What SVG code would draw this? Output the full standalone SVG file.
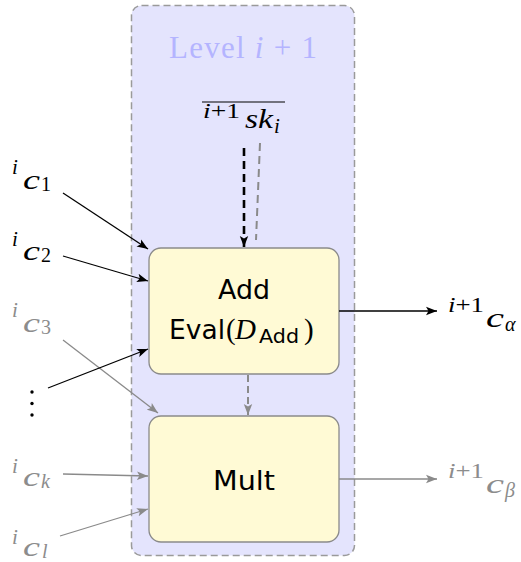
<svg xmlns="http://www.w3.org/2000/svg" width="521" height="562" viewBox="0 0 521 562">
  <style>
    .math { font-family: "Liberation Serif", "DejaVu Serif", serif; }
    .it { font-style: italic; }
    .sans { font-family: "DejaVu Sans", "Liberation Sans", sans-serif; }
    .dark { fill: #000000; }
    .grey { fill: #8c8c8c; }
    .box { fill: #fffad5; stroke: #8a8a8a; stroke-width: 1.3; }
    .wire { fill: none; stroke-width: 1.3; }
    .k { stroke: #000000; }
    .g { stroke: #8a8a8a; }
    .sup { font-size: 21px; }
    .base { font-size: 28px; }
    .sub { font-size: 20px; }
  </style>
  <defs>
    <marker id="headK" markerUnits="userSpaceOnUse" markerWidth="12" markerHeight="10" viewBox="0 0 12 10" refX="11" refY="5" orient="auto">
      <path d="M0,0.8 L11,5 L0,9.2 L2.5,5 Z" fill="#000000"/>
    </marker>
    <marker id="headG" markerUnits="userSpaceOnUse" markerWidth="12" markerHeight="10" viewBox="0 0 12 10" refX="11" refY="5" orient="auto">
      <path d="M0,0.8 L11,5 L0,9.2 L2.5,5 Z" fill="#8a8a8a"/>
    </marker>
  </defs>

  <!-- level container -->
  <g id="level">
    <rect x="131.5" y="5.5" width="223" height="550" rx="10" fill="#e4e4fd" stroke="#9a9a9a" stroke-width="1.5" stroke-dasharray="7 4"/>
    <text class="math" x="169" y="58" font-size="31" fill="#b4b4ff" textLength="148" lengthAdjust="spacing">Level <tspan class="it">i</tspan> + 1</text>
  </g>

  <!-- key label -->
  <g id="key">
    <line x1="202" y1="102" x2="285" y2="102" stroke="#000" stroke-width="1.2"/>
    <text class="math dark sup" x="203" y="118" textLength="37" lengthAdjust="spacingAndGlyphs"><tspan class="it">i</tspan>+1</text>
    <text class="math it dark base" x="245" y="128" textLength="28" lengthAdjust="spacingAndGlyphs">sk</text>
    <text class="math it dark sup" x="274" y="133">i</text>
  </g>

  <!-- operation nodes -->
  <g id="add">
    <rect class="box" x="149" y="248" width="190" height="126" rx="12"/>
    <text class="sans dark" x="244" y="299" font-size="27" text-anchor="middle" textLength="52" lengthAdjust="spacingAndGlyphs">Add</text>
    <text class="sans dark" x="169" y="339" font-size="27" textLength="56" lengthAdjust="spacingAndGlyphs">Eval</text>
    <text class="math dark" x="226" y="339" font-size="29">(</text>
    <text class="math it dark" x="235" y="339" font-size="29">D</text>
    <text class="sans dark" x="259" y="343" font-size="19" textLength="40" lengthAdjust="spacingAndGlyphs">Add</text>
    <text class="math dark" x="304" y="339" font-size="29">)</text>
  </g>
  <g id="mult">
    <rect class="box" x="149" y="416" width="190" height="126" rx="12"/>
    <text class="sans dark" x="244" y="490" font-size="27" text-anchor="middle" textLength="62" lengthAdjust="spacingAndGlyphs">Mult</text>
  </g>

  <!-- input and output labels -->
  <g id="c1">
    <text class="math it dark sup" x="12" y="174">i</text>
    <text class="math it dark base" x="23" y="189" textLength="17" lengthAdjust="spacingAndGlyphs">c</text>
    <text class="math dark sub" x="41" y="191">1</text>
  </g>
  <g id="c2">
    <text class="math it dark sup" x="12" y="246">i</text>
    <text class="math it dark base" x="23" y="260" textLength="17" lengthAdjust="spacingAndGlyphs">c</text>
    <text class="math dark sub" x="41" y="262">2</text>
  </g>
  <g id="c3">
    <text class="math it grey sup" x="12" y="317">i</text>
    <text class="math it grey base" x="23" y="332" textLength="17" lengthAdjust="spacingAndGlyphs">c</text>
    <text class="math grey sub" x="41" y="334">3</text>
  </g>
  <g id="vdots">
    <circle cx="32" cy="392" r="1.7" fill="#000"/>
    <circle cx="32" cy="403.5" r="1.7" fill="#000"/>
    <circle cx="32" cy="415" r="1.7" fill="#000"/>
  </g>
  <g id="ck">
    <text class="math it grey sup" x="12" y="473">i</text>
    <text class="math it grey base" x="23" y="486" textLength="17" lengthAdjust="spacingAndGlyphs">c</text>
    <text class="math it grey sub" x="41" y="488">k</text>
  </g>
  <g id="cl">
    <text class="math it grey sup" x="12" y="544">i</text>
    <text class="math it grey base" x="23" y="556" textLength="17" lengthAdjust="spacingAndGlyphs">c</text>
    <text class="math it grey sub" x="42" y="558">l</text>
  </g>
  <g id="calpha">
    <text class="math dark sup" x="448" y="312" textLength="36" lengthAdjust="spacingAndGlyphs"><tspan class="it">i</tspan>+1</text>
    <text class="math it dark base" x="486" y="327" textLength="18" lengthAdjust="spacingAndGlyphs">c</text>
    <text class="math it dark sub" x="505" y="331">α</text>
  </g>
  <g id="cbeta">
    <text class="math grey sup" x="448" y="478" textLength="36" lengthAdjust="spacingAndGlyphs"><tspan class="it">i</tspan>+1</text>
    <text class="math it grey base" x="486" y="493" textLength="18" lengthAdjust="spacingAndGlyphs">c</text>
    <text class="math it grey sub" x="505" y="497">β</text>
  </g>

  <!-- connectors -->
  <g id="connectors">
    <line class="wire g" x1="63" y1="340" x2="158" y2="413" marker-end="url(#headG)"/>
    <line class="wire g" x1="63" y1="474" x2="148" y2="476" marker-end="url(#headG)"/>
    <line class="wire g" x1="60" y1="536" x2="148" y2="509" marker-end="url(#headG)"/>
    <line class="wire g" x1="339" y1="479" x2="437" y2="479" marker-end="url(#headG)"/>
    <line class="wire k" x1="63" y1="193" x2="148" y2="249" marker-end="url(#headK)"/>
    <line class="wire k" x1="63" y1="256" x2="148" y2="281" marker-end="url(#headK)"/>
    <line class="wire k" x1="48" y1="388" x2="148" y2="349" marker-end="url(#headK)"/>
    <line class="wire k" x1="339" y1="311" x2="437" y2="311" marker-end="url(#headK)"/>
    <line x1="244" y1="148" x2="244" y2="247" stroke="#000" stroke-width="2.6" stroke-dasharray="8 5" marker-end="url(#headK)"/>
    <line x1="260" y1="143" x2="256" y2="240" stroke="#8a8a8a" stroke-width="2" stroke-dasharray="8 5"/>
    <line x1="248" y1="375" x2="248" y2="415" stroke="#8a8a8a" stroke-width="2" stroke-dasharray="7 4" marker-end="url(#headG)"/>
  </g>
</svg>
